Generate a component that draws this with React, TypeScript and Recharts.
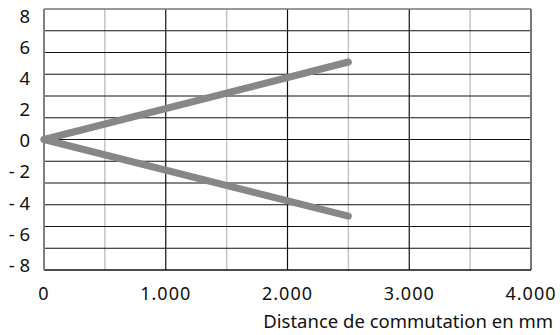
import React from "react";
import { LineChart, Line, XAxis, YAxis, ReferenceLine } from "recharts";

// Data
const distances = [0, 2500];
const upperDeviation = [0, 4.75];
const lowerDeviation = [0, -4.7];

const xTicks = [0, 1000, 2000, 3000, 4000];
const xMajorGrid = [1000, 2000, 3000];
const xMinorGrid = [500, 1500, 2500, 3500];
const yTicks = [8, 6, 4, 2, 0, -2, -4, -6, -8];
const yGrid = [-20 / 3, -16 / 3, -4, -8 / 3, -4 / 3, 0, 4 / 3, 8 / 3, 4, 16 / 3, 20 / 3];

const upperSeries = distances.map((d, i) => ({ x: d, y: upperDeviation[i] }));
const lowerSeries = distances.map((d, i) => ({ x: d, y: lowerDeviation[i] }));

const fmtX = (v: number) => (v === 0 ? "0" : `${Math.floor(v / 1000)}.${String(v % 1000).padStart(3, "0")}`);
const fmtY = (v: number) => (v < 0 ? `- ${Math.abs(v)}` : `${v}`);

const FONT = "'Noto Sans', sans-serif";

// In the reference the y labels sit slightly inset from the top/bottom grid edges
const YTick = (props: any) => {
  const { x, y, payload } = props;
  const v = payload.value as number;
  const shift = 1.2 + v * 0.73;
  return (
    <text x={x} y={y + shift} dy="0.355em" textAnchor="end" fontSize={18.5} fill="#111" fontFamily={FONT}>
      {fmtY(v)}
    </text>
  );
};

export default function App() {
  return (
    <div style={{ position: "absolute", left: 0, top: 0, width: 560, height: 335, background: "#fff", fontFamily: FONT }}>
      <LineChart width={560} height={335} margin={{ top: 9, right: 29, left: 0, bottom: 0 }}>
        <XAxis
          dataKey="x"
          type="number"
          domain={[0, 4000]}
          ticks={xTicks}
          tickFormatter={fmtX}
          allowDuplicatedCategory={false}
          height={65}
          tickLine={false}
          tickSize={0}
          tickMargin={17}
          axisLine={{ stroke: "#111", strokeWidth: 1.5 }}
          tick={{ fontSize: 18, fill: "#111", fontFamily: FONT, letterSpacing: 1 }}
          label={{
            content: (p: any) => {
              const vb = p.viewBox || { x: 44, y: 270, width: 487, height: 65 };
              return (
                <text
                  x={vb.x + vb.width + 22}
                  y={vb.y + vb.height - 6.7}
                  textAnchor="end"
                  fontSize={18.5}
                  fill="#111"
                  fontFamily={FONT}
                >
                  Distance de commutation en mm
                </text>
              );
            },
          }}
        />
        <YAxis
          type="number"
          domain={[-8, 8]}
          allowDataOverflow
          ticks={yTicks}
          width={44}
          tickLine={false}
          tickSize={0}
          tickMargin={14}
          axisLine={{ stroke: "#808080", strokeWidth: 2 }}
          tick={<YTick />}
          interval={0}
        />
        {xMinorGrid.map((v) => (
          <ReferenceLine key={`mx${v}`} x={v} stroke="#c4c4c4" strokeWidth={1.5} zIndex={-50} />
        ))}
        {xMajorGrid.map((v) => (
          <ReferenceLine key={`Mx${v}`} x={v} stroke="#111" strokeWidth={1.2} zIndex={-40} />
        ))}
        {yGrid.map((v) => (
          <ReferenceLine key={`gy${v}`} y={v} stroke="#111" strokeWidth={1.2} zIndex={-40} />
        ))}
        <ReferenceLine y={8} stroke="#777" strokeWidth={1.5} zIndex={-40} />
        <ReferenceLine x={4000} stroke="#777" strokeWidth={2} zIndex={-40} />
        <Line
          data={upperSeries}
          dataKey="y"
          stroke="#878787"
          strokeWidth={7}
          strokeLinecap="round"
          dot={false}
          isAnimationActive={false}
          zIndex={800}
        />
        <Line
          data={lowerSeries}
          dataKey="y"
          stroke="#878787"
          strokeWidth={7}
          strokeLinecap="round"
          dot={false}
          isAnimationActive={false}
          zIndex={800}
        />
      </LineChart>
    </div>
  );
}
